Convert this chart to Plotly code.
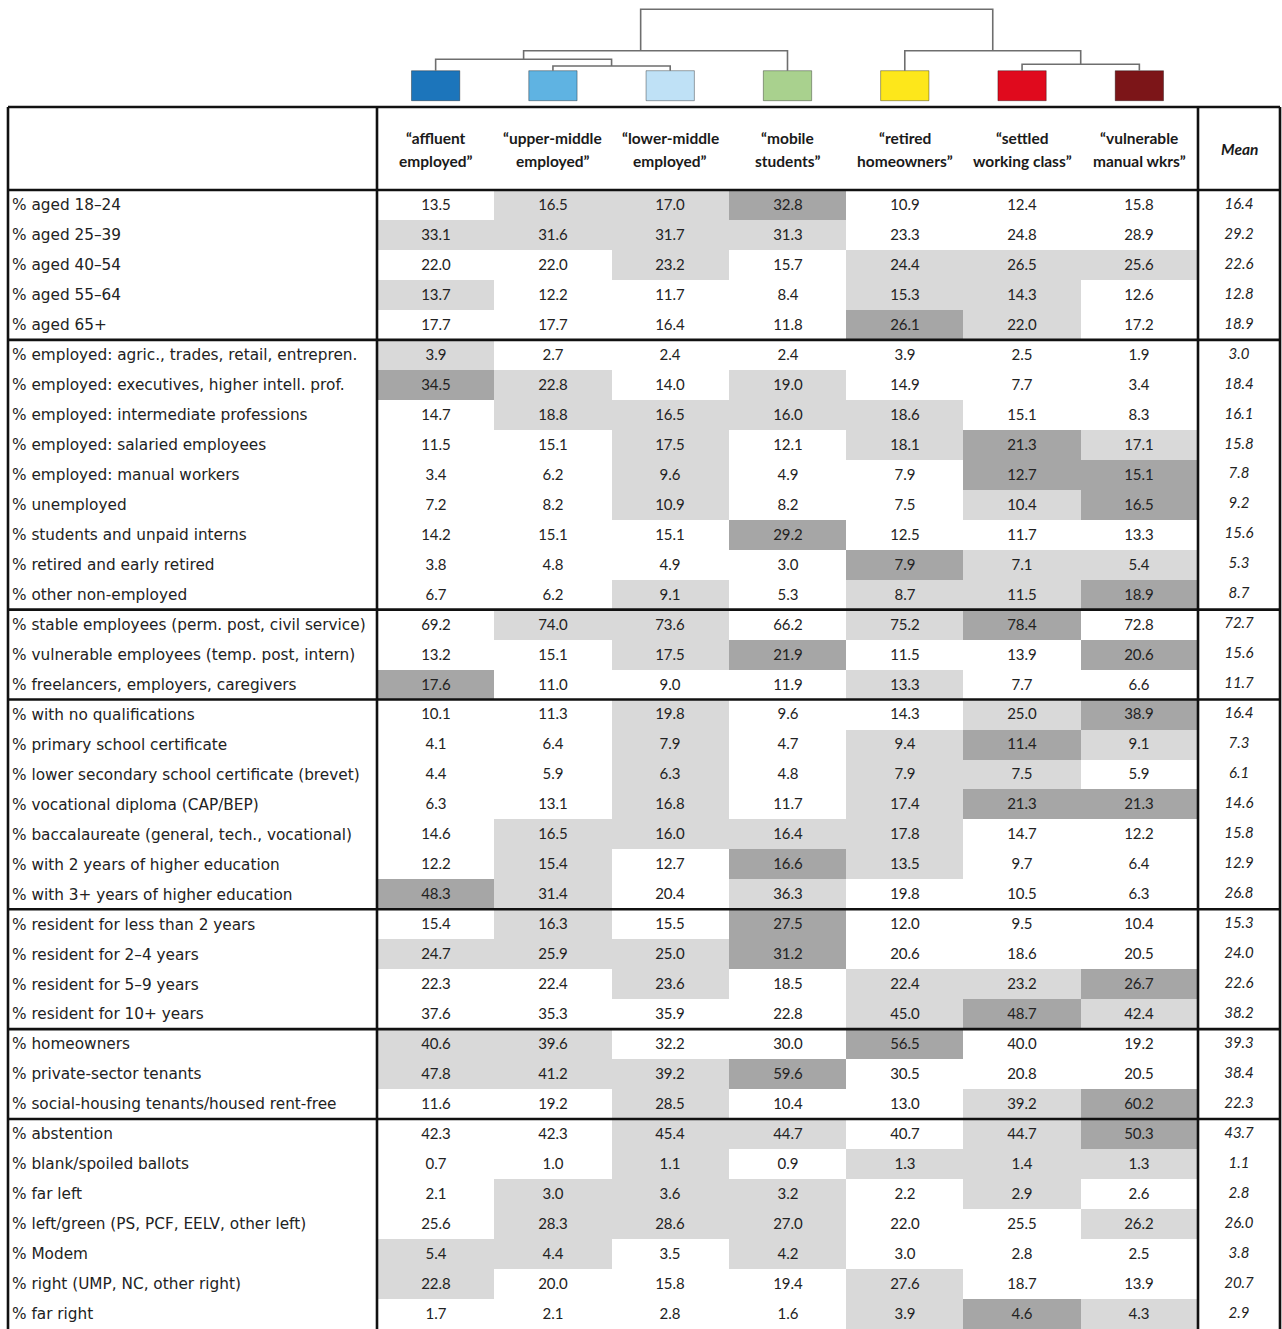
import plotly.graph_objects as go

W, H = 1282, 1329

# ---------------- data ----------------
clusters_l1 = ["“affluent", "“upper-middle", "“lower-middle", "“mobile", "“retired", "“settled", "“vulnerable"]
clusters_l2 = ["employed”", "employed”", "employed”", "students”", "homeowners”", "working class”", "manual wkrs”"]
cluster_colors = ["#1c75bb", "#5fb3e2", "#bfe1f6", "#a9d18e", "#fde71b", "#e00a1d", "#7c1518"]

row_labels = [
    "% aged 18–24", "% aged 25–39", "% aged 40–54", "% aged 55–64", "% aged 65+",
    "% employed: agric., trades, retail, entrepren.",
    "% employed: executives, higher intell. prof.",
    "% employed: intermediate professions",
    "% employed: salaried employees",
    "% employed: manual workers",
    "% unemployed",
    "% students and unpaid interns",
    "% retired and early retired",
    "% other non-employed",
    "% stable employees (perm. post, civil service)",
    "% vulnerable employees (temp. post, intern)",
    "% freelancers, employers, caregivers",
    "% with no qualifications",
    "% primary school certificate",
    "% lower secondary school certificate (brevet)",
    "% vocational diploma (CAP/BEP)",
    "% baccalaureate (general, tech., vocational)",
    "% with 2 years of higher education",
    "% with 3+ years of higher education",
    "% resident for less than 2 years",
    "% resident for 2–4 years",
    "% resident for 5–9 years",
    "% resident for 10+ years",
    "% homeowners",
    "% private-sector tenants",
    "% social-housing tenants/housed rent-free",
    "% abstention",
    "% blank/spoiled ballots",
    "% far left",
    "% left/green (PS, PCF, EELV, other left)",
    "% Modem",
    "% right (UMP, NC, other right)",
    "% far right",
]

affluent = [13.5, 33.1, 22.0, 13.7, 17.7, 3.9, 34.5, 14.7, 11.5, 3.4, 7.2, 14.2, 3.8, 6.7,
            69.2, 13.2, 17.6, 10.1, 4.1, 4.4, 6.3, 14.6, 12.2, 48.3, 15.4, 24.7, 22.3, 37.6,
            40.6, 47.8, 11.6, 42.3, 0.7, 2.1, 25.6, 5.4, 22.8, 1.7]
upper_middle = [16.5, 31.6, 22.0, 12.2, 17.7, 2.7, 22.8, 18.8, 15.1, 6.2, 8.2, 15.1, 4.8, 6.2,
                74.0, 15.1, 11.0, 11.3, 6.4, 5.9, 13.1, 16.5, 15.4, 31.4, 16.3, 25.9, 22.4, 35.3,
                39.6, 41.2, 19.2, 42.3, 1.0, 3.0, 28.3, 4.4, 20.0, 2.1]
lower_middle = [17.0, 31.7, 23.2, 11.7, 16.4, 2.4, 14.0, 16.5, 17.5, 9.6, 10.9, 15.1, 4.9, 9.1,
                73.6, 17.5, 9.0, 19.8, 7.9, 6.3, 16.8, 16.0, 12.7, 20.4, 15.5, 25.0, 23.6, 35.9,
                32.2, 39.2, 28.5, 45.4, 1.1, 3.6, 28.6, 3.5, 15.8, 2.8]
mobile = [32.8, 31.3, 15.7, 8.4, 11.8, 2.4, 19.0, 16.0, 12.1, 4.9, 8.2, 29.2, 3.0, 5.3,
          66.2, 21.9, 11.9, 9.6, 4.7, 4.8, 11.7, 16.4, 16.6, 36.3, 27.5, 31.2, 18.5, 22.8,
          30.0, 59.6, 10.4, 44.7, 0.9, 3.2, 27.0, 4.2, 19.4, 1.6]
retired = [10.9, 23.3, 24.4, 15.3, 26.1, 3.9, 14.9, 18.6, 18.1, 7.9, 7.5, 12.5, 7.9, 8.7,
           75.2, 11.5, 13.3, 14.3, 9.4, 7.9, 17.4, 17.8, 13.5, 19.8, 12.0, 20.6, 22.4, 45.0,
           56.5, 30.5, 13.0, 40.7, 1.3, 2.2, 22.0, 3.0, 27.6, 3.9]
settled = [12.4, 24.8, 26.5, 14.3, 22.0, 2.5, 7.7, 15.1, 21.3, 12.7, 10.4, 11.7, 7.1, 11.5,
           78.4, 13.9, 7.7, 25.0, 11.4, 7.5, 21.3, 14.7, 9.7, 10.5, 9.5, 18.6, 23.2, 48.7,
           40.0, 20.8, 39.2, 44.7, 1.4, 2.9, 25.5, 2.8, 18.7, 4.6]
vulnerable = [15.8, 28.9, 25.6, 12.6, 17.2, 1.9, 3.4, 8.3, 17.1, 15.1, 16.5, 13.3, 5.4, 18.9,
              72.8, 20.6, 6.6, 38.9, 9.1, 5.9, 21.3, 12.2, 6.4, 6.3, 10.4, 20.5, 26.7, 42.4,
              19.2, 20.5, 60.2, 50.3, 1.3, 2.6, 26.2, 2.5, 13.9, 4.3]
mean_values = [16.4, 29.2, 22.6, 12.8, 18.9, 3.0, 18.4, 16.1, 15.8, 7.8, 9.2, 15.6, 5.3, 8.7,
               72.7, 15.6, 11.7, 16.4, 7.3, 6.1, 14.6, 15.8, 12.9, 26.8, 15.3, 24.0, 22.6, 38.2,
               39.3, 38.4, 22.3, 43.7, 1.1, 2.8, 26.0, 3.8, 20.7, 2.9]

# over-representation level: 0 = none, 1 = moderate (light grey), 2 = strong (dark grey)
lvl_affluent = [0, 1, 0, 1, 0, 1, 2, 0, 0, 0, 0, 0, 0, 0, 0, 0, 2, 0, 0, 0, 0, 0, 0, 2, 0, 1, 0, 0, 1, 1, 0, 0, 0, 0, 0, 1, 1, 0]
lvl_upper = [1, 1, 0, 0, 0, 0, 1, 1, 0, 0, 0, 0, 0, 0, 1, 0, 0, 0, 0, 0, 0, 1, 1, 1, 1, 1, 0, 0, 1, 1, 0, 0, 0, 1, 1, 1, 0, 0]
lvl_lower = [1, 1, 1, 0, 0, 0, 0, 1, 1, 1, 1, 0, 0, 1, 1, 1, 0, 1, 1, 1, 1, 1, 0, 0, 0, 1, 1, 0, 0, 1, 1, 1, 1, 1, 1, 0, 0, 0]
lvl_mobile = [2, 1, 0, 0, 0, 0, 1, 1, 0, 0, 0, 2, 0, 0, 0, 2, 0, 0, 0, 0, 0, 1, 2, 1, 2, 2, 0, 0, 0, 2, 0, 1, 0, 1, 1, 1, 0, 0]
lvl_retired = [0, 0, 1, 1, 2, 0, 0, 1, 1, 0, 0, 0, 2, 1, 1, 0, 1, 0, 1, 1, 1, 1, 1, 0, 0, 0, 1, 1, 2, 0, 0, 0, 1, 0, 0, 0, 1, 1]
lvl_settled = [0, 0, 1, 1, 1, 0, 0, 0, 2, 2, 1, 0, 1, 1, 2, 0, 0, 1, 2, 1, 2, 0, 0, 0, 0, 0, 1, 2, 0, 0, 1, 1, 1, 1, 0, 0, 0, 2]
lvl_vulnerable = [0, 0, 1, 0, 0, 0, 0, 0, 1, 2, 2, 0, 1, 2, 0, 2, 0, 2, 1, 0, 2, 0, 0, 0, 0, 0, 2, 1, 0, 0, 2, 2, 1, 0, 1, 0, 0, 1]

# section ends (row index after which a thick rule is drawn)
section_breaks = [4, 13, 16, 23, 27, 30]

# dendrogram: (child a, child b, merge height); leaves 0..6, new nodes numbered 7, 8, ...
merges = [(1, 2, 4.7), (0, 7, 11.4), (8, 3, 20.0), (5, 6, 6.4), (4, 10, 20.0), (9, 11, 61.4)]

# ---------------- build ----------------
cols = [affluent, upper_middle, lower_middle, mobile, retired, settled, vulnerable]
lvls = [lvl_affluent, lvl_upper, lvl_lower, lvl_mobile, lvl_retired, lvl_settled, lvl_vulnerable]
n_rows = len(row_labels)
n_cols = len(cols)

z = [[lvls[c][r] for c in range(n_cols)] for r in range(n_rows)]
txt = [[f"{cols[c][r]:.1f}" for c in range(n_cols)] for r in range(n_rows)]


def px(x):
    return x / W


def py(y):
    return 1 - y / H


TABLE_TOP = 107
HEAD_BOT = 190
ROW_H = 29.97
X_LEFT, X_LAB, X_MEAN, X_RIGHT = 8, 377, 1198, 1280
LABEL_PAD = 4

rows_visible = (H - HEAD_BOT) / ROW_H

fig = go.Figure()

fig.add_trace(go.Heatmap(
    z=z, x=list(range(n_cols)), y=list(range(n_rows)), text=txt,
    texttemplate="%{text}",
    textfont=dict(family="Lato, Liberation Sans", size=15, color="#222222"),
    colorscale=[[0, "#ffffff"], [0.5, "#d9d9d9"], [1, "#a6a6a6"]],
    zmin=0, zmax=2, showscale=False, hoverinfo="skip",
    xaxis="x", yaxis="y",
))

# Mean column
fig.add_trace(go.Scatter(
    x=[0] * n_rows, y=list(range(n_rows)), mode="text",
    text=[f"{v:.1f}" for v in mean_values],
    textfont=dict(family="Lato, Liberation Sans", size=15, color="#222222", style="italic"),
    xaxis="x2", yaxis="y", hoverinfo="skip", showlegend=False,
))

# row labels
fig.add_trace(go.Scatter(
    x=[LABEL_PAD / (X_LAB - X_LEFT)] * n_rows, y=[r + 0.05 for r in range(n_rows)], mode="text",
    text=row_labels, textposition="middle right",
    textfont=dict(family="DejaVu Sans", size=15.3, color="#222222"),
    xaxis="x3", yaxis="y", hoverinfo="skip", showlegend=False,
))

# dendrogram
pos = {i: float(i) for i in range(n_cols)}
hgt = {i: 0.0 for i in range(n_cols)}
joint_shift = {9: -0.127}
dx, dy = [], []
for k, (a, b, h) in enumerate(merges):
    node = n_cols + k
    dx += [pos[a], pos[a], pos[b], pos[b], None]
    dy += [hgt[a], h, h, hgt[b], None]
    pos[node] = (pos[a] + pos[b]) / 2 + joint_shift.get(node, 0.0)
    hgt[node] = h
fig.add_trace(go.Scatter(
    x=dx, y=dy, mode="lines", line=dict(color="#6e6e6e", width=1.6),
    xaxis="x", yaxis="y2", hoverinfo="skip", showlegend=False,
))

# coloured cluster boxes
fig.add_trace(go.Bar(
    x=list(range(n_cols)), y=[30] * n_cols, base=-30, width=0.412,
    marker=dict(color=cluster_colors, line=dict(color="rgba(0,0,0,0.35)", width=1)),
    xaxis="x", yaxis="y2", hoverinfo="skip", showlegend=False,
))

# header labels
hfont = dict(family="Lato, Liberation Sans", size=15.5, color="#1a1a1a", weight="bold")
ann = []
for i in range(n_cols):
    ann.append(dict(x=i, y=py(138), xref="x", yref="paper", text=clusters_l1[i], showarrow=False,
                    font=hfont, xanchor="center", yanchor="middle"))
    ann.append(dict(x=i, y=py(161), xref="x", yref="paper", text=clusters_l2[i], showarrow=False,
                    font=hfont, xanchor="center", yanchor="middle"))
ann.append(dict(x=0, y=py(149), xref="x2", yref="paper", text="Mean", showarrow=False,
                font=dict(hfont, style="italic"), xanchor="center", yanchor="middle"))

# table rules
LW = 2.6
shapes = []
for yy in (TABLE_TOP, HEAD_BOT):
    shapes.append(dict(type="line", xref="paper", yref="paper", x0=px(X_LEFT), x1=px(X_RIGHT),
                       y0=py(yy), y1=py(yy), line=dict(color="#111", width=LW)))
for xx in (X_LEFT, X_LAB, X_MEAN, X_RIGHT):
    shapes.append(dict(type="line", xref="paper", yref="paper", x0=px(xx), x1=px(xx),
                       y0=py(TABLE_TOP), y1=0, line=dict(color="#111", width=LW)))
for r in section_breaks:
    shapes.append(dict(type="line", xref="paper", yref="y", x0=px(X_LEFT), x1=px(X_RIGHT),
                       y0=r + 0.5, y1=r + 0.5, line=dict(color="#111", width=LW)))

hidden = dict(visible=False, showgrid=False, zeroline=False, fixedrange=True)
fig.update_layout(
    width=W, height=H, margin=dict(l=0, r=0, t=0, b=0),
    paper_bgcolor="white", plot_bgcolor="white",
    showlegend=False, annotations=ann, shapes=shapes,
    xaxis=dict(domain=[px(X_LAB), px(X_MEAN)], range=[-0.5, n_cols - 0.5], anchor="y", **hidden),
    yaxis=dict(domain=[0, py(HEAD_BOT)], range=[rows_visible - 0.5, -0.5], anchor="x", **hidden),
    xaxis2=dict(domain=[px(X_MEAN), px(X_RIGHT)], range=[-0.5, 0.5], anchor="y", **hidden),
    xaxis3=dict(domain=[px(X_LEFT), px(X_LAB)], range=[0, 1], anchor="y", **hidden),
    yaxis2=dict(domain=[py(TABLE_TOP), 1], range=[70.7 - TABLE_TOP, 70.7], anchor="x", **hidden),
)

# remove the default page margin so the figure sits at the window's top-left corner
fig.write_html(
    "out.html",
    config={"displayModeBar": False},
    post_script="document.body.style.margin='0';document.body.style.overflow='hidden';",
)
